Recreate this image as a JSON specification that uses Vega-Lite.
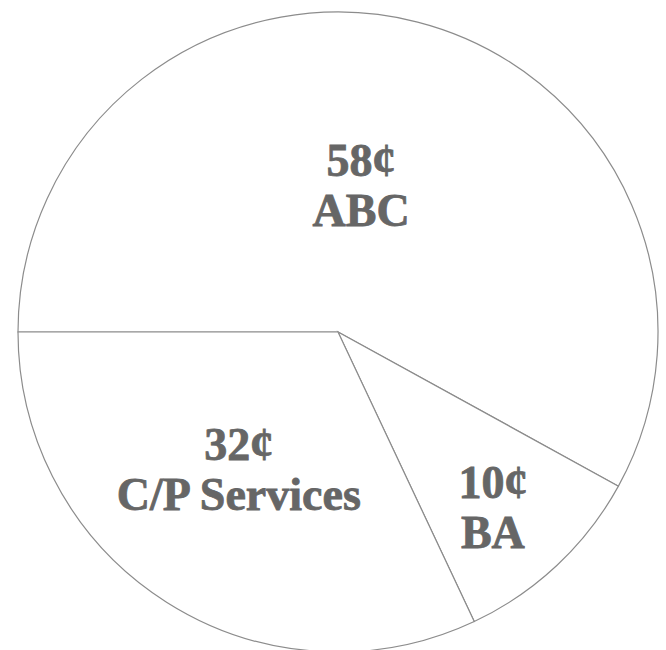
{
  "$schema": "https://vega.github.io/schema/vega-lite/v6.json",
  "width": 640,
  "height": 640,
  "padding": {"left": 15, "top": 9, "right": 11, "bottom": 1},
  "background": "white",
  "config": {"view": {"stroke": null}},
  "data": {
    "values": [
      {"segment": "ABC", "cents": 58, "order": 1, "label": "58¢\nABC", "lx": 0.072, "ly": 0.53},
      {"segment": "BA", "cents": 10, "order": 2, "label": "10¢\nBA", "lx": 0.484, "ly": -0.475},
      {"segment": "C/P Services", "cents": 32, "order": 3, "label": "32¢\nC/P Services", "lx": -0.31, "ly": -0.355}
    ]
  },
  "layer": [
    {
      "mark": {"type": "arc", "outerRadius": 320, "fill": "white", "stroke": "#8c8c8c", "strokeWidth": 1.2},
      "encoding": {
        "theta": {"field": "cents", "type": "quantitative", "stack": true, "scale": {"range": [4.712389, 10.995574]}},
        "order": {"field": "order", "type": "quantitative"}
      }
    },
    {
      "mark": {"type": "text", "font": "Liberation Serif", "fontWeight": "bold", "fontSize": 46, "fill": "#666666", "stroke": "#666666", "strokeWidth": 0.8, "lineBreak": "\n", "lineHeight": 50, "align": "center", "baseline": "middle"},
      "encoding": {
        "x": {"field": "lx", "type": "quantitative", "scale": {"domain": [-1, 1]}, "axis": null},
        "y": {"field": "ly", "type": "quantitative", "scale": {"domain": [-1, 1]}, "axis": null},
        "text": {"field": "label"}
      }
    }
  ]
}
